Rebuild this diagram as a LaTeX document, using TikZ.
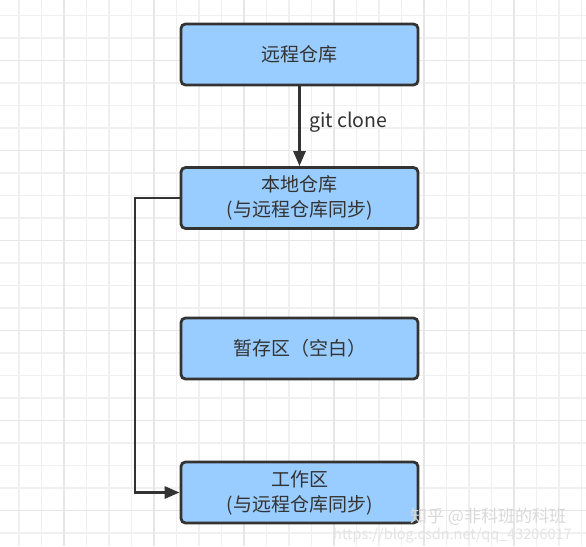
\documentclass[tikz,border=0pt]{standalone}
\usepackage{fontspec}
\setmainfont{Noto Sans CJK SC}
\usetikzlibrary{arrows.meta}
\definecolor{boxfill}{HTML}{99CCFF}
\definecolor{boxline}{HTML}{333333}
\definecolor{gridminor}{HTML}{F0F0F0}
\definecolor{gridmajor}{HTML}{E6E6E6}
\begin{document}
\begin{tikzpicture}[x=1pt,y=-1pt,
  box/.style={draw=boxline, fill=boxfill, line width=2.8pt, rounded corners=4.5pt,
    minimum width=237pt, minimum height=61pt, align=center, inner sep=0pt,
    font=\fontsize{19}{25}\selectfont, text=boxline},
  conn/.style={draw=boxline, line width=2.8pt, -{Triangle[length=15pt,width=12pt]}},
  lbl/.style={font=\fontsize{19.5}{22}\selectfont, text=boxline, inner sep=0pt}]
\useasboundingbox (0,0) rectangle (586,546);
\fill[white] (0,0) rectangle (586,546);
% grid
\foreach \i in {0,...,26} {
  \pgfmathsetmacro{\xx}{19+22.5*\i}
  \draw[gridminor, line width=1.2pt] (\xx,0) -- (\xx,546);
}
\foreach \i in {0,...,24} {
  \pgfmathsetmacro{\yy}{15.5+22.5*\i}
  \draw[gridminor, line width=1.2pt] (0,\yy) -- (586,\yy);
}
\foreach \i in {0,...,6} {
  \pgfmathsetmacro{\xx}{64+90*\i}
  \draw[gridmajor, line width=1.4pt] (\xx,0) -- (\xx,546);
}
\foreach \i in {0,...,6} {
  \pgfmathsetmacro{\yy}{60.5+90*\i}
  \draw[gridmajor, line width=1.4pt] (0,\yy) -- (586,\yy);
}
% boxes
\node[box] (remote) at (299.5,54.5) {远程仓库};
\node[box] (local) at (299.5,198) {本地仓库\\(与远程仓库同步)};
\node[box] (stage) at (299.5,348.5) {暂存区（空白）};
\node[box] (work) at (299.5,492.5) {工作区\\(与远程仓库同步)};
% connectors
\draw[conn] (remote.south) -- (local.north);
\node[lbl, anchor=west] (gitlbl) at (309,122) {git clone};
\coordinate (bend1) at (135,198);
\coordinate (bend2) at (135,492.5);
\draw[conn] (local.west) -- (bend1) -- (bend2) -- (work.west);
% watermarks
\node[font=\fontsize{14.5}{15}\selectfont, text=gray!22, anchor=west, inner sep=0pt] (url) at (333,536) {https://blog.csdn.net/qq\_43206017};
\node[font=\fontsize{17}{18}\selectfont, text=gray!30, anchor=west, inner sep=0pt] (wm) at (410,517) {知乎 @非科班的科班};
\end{tikzpicture}
\end{document}
